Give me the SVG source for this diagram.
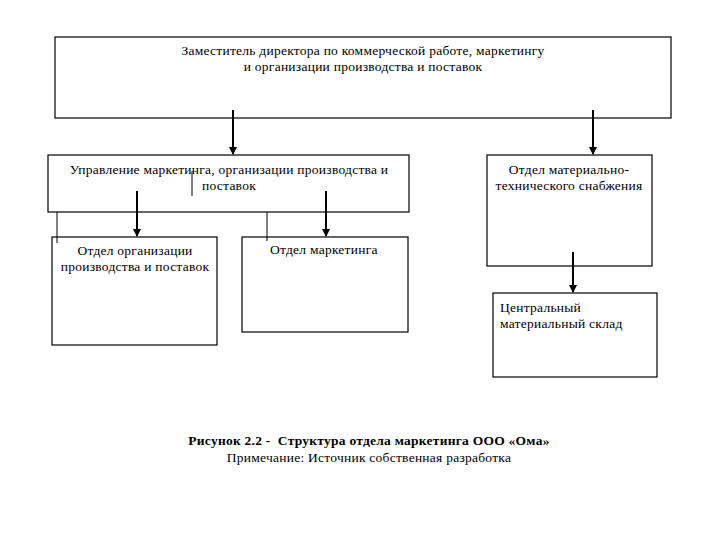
<svg xmlns="http://www.w3.org/2000/svg" width="720" height="540" viewBox="0 0 720 540">
<style>
  .box { fill: #ffffff; stroke: #000000; stroke-width: 1.2; }
  .t { font-family: "Liberation Serif", "Times New Roman", serif; font-size: 13.5px; letter-spacing: 0.25px; fill: #000000; }
  .c { text-anchor: middle; }
  .arrow { stroke: #000000; stroke-width: 2; fill: none; marker-end: url(#ah); }
  .thin { stroke: #000000; stroke-width: 1; fill: none; }
  .b { font-weight: bold; }
</style>
<defs>
  <marker id="ah" markerWidth="8" markerHeight="8" refX="7" refY="4" orient="auto" markerUnits="userSpaceOnUse">
    <path d="M0,0 L8,4 L0,8 Z" fill="#000000"/>
  </marker>
</defs>
<rect width="720" height="540" fill="#ffffff"/>
<g id="n-deputy">
  <rect class="box" x="55" y="37" width="616" height="81"/>
  <text class="t c" x="363" y="55">Заместитель директора по коммерческой работе, маркетингу</text>
  <text class="t c" x="363" y="71">и организации производства и поставок</text>
</g>
<g id="n-management">
  <rect class="box" x="48" y="155" width="361" height="57"/>
  <text class="t c" x="229" y="174">Управление маркетинга, организации производства и</text>
  <text class="t c" x="229" y="190">поставок</text>
</g>
<g id="n-supply">
  <rect class="box" x="487" y="155" width="165" height="111"/>
  <text class="t c" x="569" y="174">Отдел материально-</text>
  <text class="t c" x="569" y="190">технического снабжения</text>
</g>
<g id="n-org">
  <rect class="box" x="52" y="237" width="165" height="108"/>
  <text class="t c" x="135" y="255">Отдел организации</text>
  <text class="t c" x="135" y="271">производства и поставок</text>
</g>
<g id="n-marketing">
  <rect class="box" x="242" y="237" width="166" height="95"/>
  <text class="t" x="270" y="254">Отдел маркетинга</text>
</g>
<g id="n-warehouse">
  <rect class="box" x="493" y="293" width="164" height="84"/>
  <text class="t" x="500" y="312">Центральный</text>
  <text class="t" x="500" y="328">материальный склад</text>
</g>
<g id="connectors">
  <line class="arrow" x1="233" y1="110" x2="233" y2="154"/>
  <line class="arrow" x1="593" y1="110" x2="593" y2="154"/>
  <line class="arrow" x1="137" y1="191" x2="137" y2="236"/>
  <line class="arrow" x1="326" y1="191" x2="326" y2="236"/>
  <line class="arrow" x1="573" y1="252" x2="573" y2="292"/>
  <line class="thin" x1="192" y1="171" x2="192" y2="196"/>
  <line class="thin" x1="57" y1="212" x2="57" y2="243"/>
  <line class="thin" x1="267" y1="212" x2="267" y2="241"/>
</g>
<g id="caption">
  <text class="t c b" x="369" y="445" xml:space="preserve">Рисунок 2.2 -  Структура отдела маркетинга ООО «Ома»</text>
  <text class="t c" x="369" y="462">Примечание: Источник собственная разработка</text>
</g>
</svg>
